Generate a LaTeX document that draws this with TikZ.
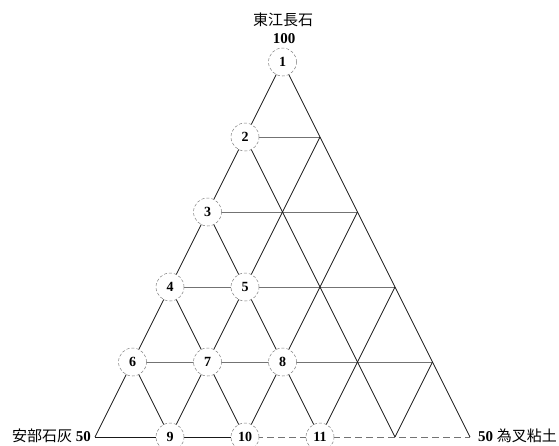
\documentclass[tikz,border=0pt]{standalone}
\usepackage{fontspec}
\setmainfont{Liberation Serif}
\newfontfamily\cjk{Noto Sans CJK JP}
\begin{document}
\begin{tikzpicture}[x=1pt,y=1pt,
  edge/.style={draw=black!90,line width=0.8pt},
  hline/.style={draw=black!55,line width=0.7pt},
  brokenline/.style={draw=black!55,line width=0.7pt,dash pattern=on 7pt off 4pt},
  pt/.style={circle,draw=black!50,densely dashed,line width=0.5pt,fill=white,
    minimum size=28pt,inner sep=0pt,font=\fontsize{14}{14}\selectfont\bfseries},
  lbl/.style={inner sep=0pt,font=\fontsize{15}{15}\selectfont}]
\useasboundingbox (0,0) rectangle (559,-445);
\foreach \r in {0,...,5}{
  \foreach \k in {0,...,\r}{
    \coordinate (p\r\k) at ({282.5-37.5*\r+75*\k},{-62-75*\r});
  }
}
% horizontal lines
\foreach \r in {1,...,4}{ \draw[hline] (p\r0) -- (p\r\r); }
\draw[edge] (p50) -- (p52);
\draw[brokenline] (p52) -- (p55);
% outer edges
\draw[edge] (p00) -- (p50);
\draw[edge] (p00) -- (p55);
% lines parallel to the left edge
\foreach \k in {1,...,4}{ \draw[edge] (p\k\k) -- (p5\k); }
% lines parallel to the right edge
\foreach \m/\n in {1/4,2/3,3/2,4/1}{ \draw[edge] (p\m0) -- (p5\n); }
% numbered points
\node[pt] (n1) at (p00) {1};
\node[pt] (n2) at (p10) {2};
\node[pt] (n3) at (p20) {3};
\node[pt] (n4) at (p30) {4};
\node[pt] (n5) at (p31) {5};
\node[pt] (n6) at (p40) {6};
\node[pt] (n7) at (p41) {7};
\node[pt] (n8) at (p42) {8};
\node[pt] (n9) at (p51) {9};
\node[pt] (n10) at (p52) {10};
\node[pt] (n11) at (p53) {11};
% labels
\node[lbl] (top) at (283,-20) {\cjk 東江長石};
\node[lbl,font=\fontsize{15}{15}\selectfont\bfseries] (t100) at (284,-39) {100};
\node[lbl,anchor=east] (bl) at (91,-436) {{\cjk 安部石灰} \textbf{50}};
\node[lbl,anchor=west] (br) at (478,-436) {\textbf{50} {\cjk 為叉粘土}};
\end{tikzpicture}
\end{document}
